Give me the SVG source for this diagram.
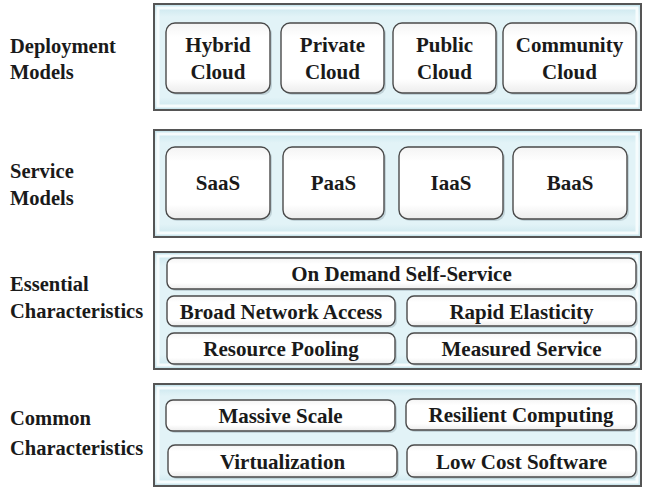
<svg xmlns="http://www.w3.org/2000/svg" width="645" height="488" viewBox="0 0 645 488" font-family="'Liberation Serif', 'Times New Roman', serif">
<defs>
<linearGradient id="panelG" x1="0" y1="0" x2="0" y2="1">
<stop offset="0" stop-color="#c6e4ec"/>
<stop offset="0.12" stop-color="#e2f3f7"/>
<stop offset="0.88" stop-color="#e2f3f7"/>
<stop offset="1" stop-color="#c9e5ec"/>
</linearGradient>
<linearGradient id="boxG" x1="0" y1="0" x2="0" y2="1">
<stop offset="0" stop-color="#f4f4f4"/>
<stop offset="0.2" stop-color="#ffffff"/>
<stop offset="0.8" stop-color="#ffffff"/>
<stop offset="1" stop-color="#ececec"/>
</linearGradient>
</defs>
<style>
.panel{fill:url(#panelG);stroke:#555;stroke-width:2}
.inner{fill:none;stroke:#f6fcfd;stroke-width:3}
.box{fill:url(#boxG);stroke:#4a4a4a;stroke-width:1.4}
.shadow{fill:#9aaeb3;opacity:0.45}
.lbl{font-weight:bold;font-size:20.5px;fill:#1a1a1a}
.t{font-weight:bold;font-size:21px;fill:#1a1a1a;text-anchor:middle}
</style>
<rect width="645" height="488" fill="#ffffff"/>

<g id="deployment">
<rect class="panel" x="154" y="4" width="487" height="106"/>
<rect class="inner" x="158" y="8" width="479" height="98"/>
<text class="lbl" x="10" y="53">Deployment</text>
<text class="lbl" x="10" y="79">Models</text>
<g id="hybrid"><rect class="shadow" x="168" y="25" width="104" height="70" rx="9"/><rect class="box" x="166" y="23" width="104" height="70" rx="9"/><text class="t" x="218" y="52">Hybrid</text><text class="t" x="218" y="79">Cloud</text></g>
<g id="private"><rect class="shadow" x="283" y="25" width="103" height="70" rx="9"/><rect class="box" x="281" y="23" width="103" height="70" rx="9"/><text class="t" x="332.5" y="52">Private</text><text class="t" x="332.5" y="79">Cloud</text></g>
<g id="public"><rect class="shadow" x="395" y="25" width="103" height="70" rx="9"/><rect class="box" x="393" y="23" width="103" height="70" rx="9"/><text class="t" x="444.5" y="52">Public</text><text class="t" x="444.5" y="79">Cloud</text></g>
<g id="community"><rect class="shadow" x="505" y="25" width="133" height="70" rx="9"/><rect class="box" x="503" y="23" width="133" height="70" rx="9"/><text class="t" x="569.5" y="52">Community</text><text class="t" x="569.5" y="79">Cloud</text></g>
</g>

<g id="service">
<rect class="panel" x="154" y="130" width="487" height="107"/>
<rect class="inner" x="158" y="134" width="479" height="99"/>
<text class="lbl" x="10" y="178">Service</text>
<text class="lbl" x="10" y="205">Models</text>
<g id="saas"><rect class="shadow" x="168" y="149" width="104" height="72" rx="9"/><rect class="box" x="166" y="147" width="104" height="72" rx="9"/><text class="t" x="218" y="190">SaaS</text></g>
<g id="paas"><rect class="shadow" x="285" y="149" width="101" height="72" rx="9"/><rect class="box" x="283" y="147" width="101" height="72" rx="9"/><text class="t" x="333.5" y="190">PaaS</text></g>
<g id="iaas"><rect class="shadow" x="401" y="149" width="104" height="72" rx="9"/><rect class="box" x="399" y="147" width="104" height="72" rx="9"/><text class="t" x="451" y="190">IaaS</text></g>
<g id="baas"><rect class="shadow" x="515" y="149" width="114" height="72" rx="9"/><rect class="box" x="513" y="147" width="114" height="72" rx="9"/><text class="t" x="570" y="190">BaaS</text></g>
</g>

<g id="essential">
<rect class="panel" x="154" y="252" width="487" height="117"/>
<rect class="inner" x="158" y="256" width="479" height="109"/>
<text class="lbl" x="10" y="291">Essential</text>
<text class="lbl" x="10" y="318">Characteristics</text>
<g id="ondemand"><rect class="shadow" x="169" y="260" width="469" height="31" rx="7"/><rect class="box" x="167" y="258" width="469" height="31" rx="7"/><text class="t" x="401.5" y="281">On Demand Self-Service</text></g>
<g id="broad"><rect class="shadow" x="169" y="298" width="228" height="30" rx="7"/><rect class="box" x="167" y="296" width="228" height="30" rx="7"/><text class="t" x="281" y="318.5">Broad Network Access</text></g>
<g id="rapid"><rect class="shadow" x="409" y="298" width="229" height="30" rx="7"/><rect class="box" x="407" y="296" width="229" height="30" rx="7"/><text class="t" x="521.5" y="318.5">Rapid Elasticity</text></g>
<g id="pooling"><rect class="shadow" x="169" y="335" width="228" height="31" rx="7"/><rect class="box" x="167" y="333" width="228" height="31" rx="7"/><text class="t" x="281" y="356">Resource Pooling</text></g>
<g id="measured"><rect class="shadow" x="409" y="335" width="229" height="31" rx="7"/><rect class="box" x="407" y="333" width="229" height="31" rx="7"/><text class="t" x="521.5" y="356">Measured Service</text></g>
</g>

<g id="common">
<rect class="panel" x="154" y="384" width="487" height="102"/>
<rect class="inner" x="158" y="388" width="479" height="94"/>
<text class="lbl" x="10" y="425">Common</text>
<text class="lbl" x="10" y="455">Characteristics</text>
<g id="massive"><rect class="shadow" x="168" y="402" width="229" height="31" rx="7"/><rect class="box" x="166" y="400" width="229" height="31" rx="7"/><text class="t" x="280.5" y="423">Massive Scale</text></g>
<g id="resilient"><rect class="shadow" x="408" y="401" width="230" height="31" rx="7"/><rect class="box" x="406" y="399" width="230" height="31" rx="7"/><text class="t" x="521" y="422">Resilient Computing</text></g>
<g id="virtualization"><rect class="shadow" x="170" y="447" width="229" height="32" rx="7"/><rect class="box" x="168" y="445" width="229" height="32" rx="7"/><text class="t" x="282.5" y="468.5">Virtualization</text></g>
<g id="lowcost"><rect class="shadow" x="409" y="447" width="229" height="32" rx="7"/><rect class="box" x="407" y="445" width="229" height="32" rx="7"/><text class="t" x="521.5" y="468.5">Low Cost Software</text></g>
</g>

<g id="connectors"/>
</svg>
